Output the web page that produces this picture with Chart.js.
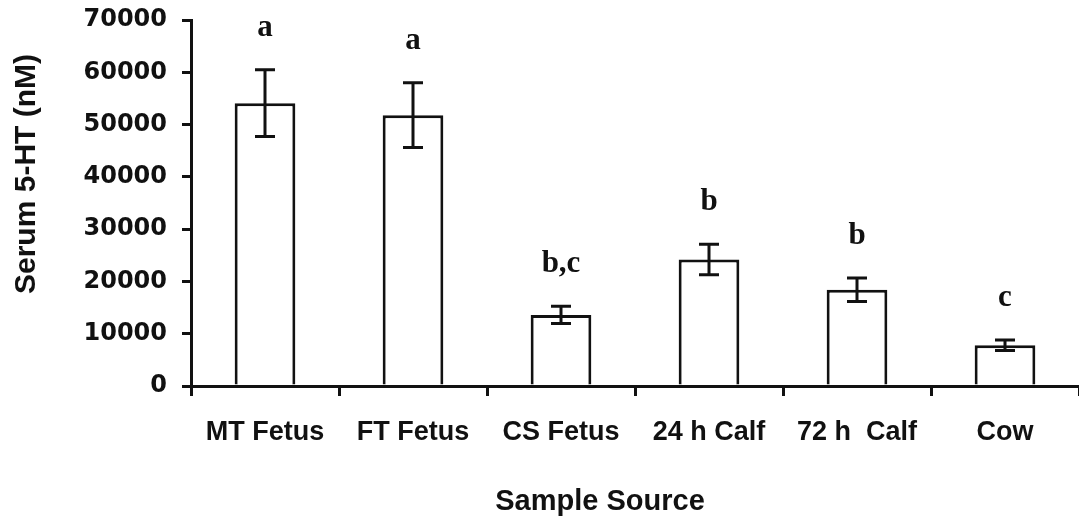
<!DOCTYPE html>
<html>
<head>
<meta charset="utf-8">
<script src="https://cdn.jsdelivr.net/npm/chart.js@4.4.1/dist/chart.umd.min.js"></script>
<style>
  body { margin: 0; background: #fff; }
  canvas { display: block; }
</style>
</head>
<body>
<canvas id="myChart" width="1079" height="523"></canvas>
<script>
// data
var sources = ['MT Fetus', 'FT Fetus', 'CS Fetus', '24 h Calf', '72 h  Calf', 'Cow'];
var serum5HT = [54100, 51800, 13600, 24200, 18400, 7800];
var sem = [6400, 6200, 1650, 2900, 2250, 1000];
var letters = ['a', 'a', 'b,c', 'b', 'b', 'c'];
var yTicks = [0, 10000, 20000, 30000, 40000, 50000, 60000, 70000];

var ink = '#111';

// error bars + significance letters
var errorBars = {
  id: 'errorBars',
  afterDatasetsDraw: function (chart) {
    var ctx = chart.ctx;
    var y = chart.scales.y;
    var meta = chart.getDatasetMeta(0);
    ctx.save();
    ctx.strokeStyle = ink;
    ctx.lineWidth = 3;
    meta.data.forEach(function (bar, i) {
      var x = bar.x;
      var hi = y.getPixelForValue(serum5HT[i] + sem[i]);
      var lo = y.getPixelForValue(serum5HT[i] - sem[i]);
      ctx.beginPath();
      ctx.moveTo(x, hi); ctx.lineTo(x, lo);
      ctx.moveTo(x - 10, hi); ctx.lineTo(x + 10, hi);
      ctx.moveTo(x - 10, lo); ctx.lineTo(x + 10, lo);
      ctx.stroke();
      ctx.fillStyle = ink;
      ctx.font = 'bold 31px "Liberation Serif", "Times New Roman", serif';
      ctx.textAlign = 'center';
      ctx.textBaseline = 'alphabetic';
      ctx.fillText(letters[i], x, hi - 34);
    });
    ctx.restore();
  }
};

// axis titles drawn by hand so they sit where the original has them
var axisTitles = {
  id: 'axisTitles',
  afterDraw: function (chart) {
    var ctx = chart.ctx;
    ctx.save();
    ctx.fillStyle = ink;
    ctx.font = 'bold 29px "Liberation Sans", Arial, sans-serif';
    ctx.textAlign = 'center';
    ctx.textBaseline = 'middle';
    ctx.fillText('Sample Source', 600, 502);
    ctx.translate(27, 174);
    ctx.rotate(-Math.PI / 2);
    ctx.font = 'bold 30px "Liberation Sans", Arial, sans-serif';
    ctx.fillText('Serum 5-HT (nM)', 0, 0);
    ctx.restore();
  }
};

var ctx = document.getElementById('myChart').getContext('2d');
var chart = new Chart(ctx, {
  type: 'bar',
  data: {
    labels: sources,
    datasets: [{
      label: 'Serum 5-HT',
      data: serum5HT,
      backgroundColor: '#fff',
      borderColor: ink,
      borderWidth: 3,
      barPercentage: 0.41,
      categoryPercentage: 1.0
    }]
  },
  options: {
    responsive: false,
    animation: false,
    layout: { padding: { top: 20, right: 0, left: 0, bottom: 0 } },
    plugins: {
      legend: { display: false },
      tooltip: { enabled: false }
    },
    scales: {
      x: {
        offset: true,
        border: { color: ink, width: 3 },
        grid: {
          offset: true,
          drawOnChartArea: false,
          drawTicks: true,
          tickLength: 10,
          color: ink,
          lineWidth: 3
        },
        ticks: {
          color: ink,
          padding: 20,
          maxRotation: 0,
          font: { family: '"Liberation Sans", Arial, sans-serif', size: 27, weight: 'bold' }
        },
        afterFit: function (scale) {
          scale.height = 137;
          scale.paddingLeft = 0; scale.paddingRight = 0;
        }
      },
      y: {
        min: 0,
        max: 70000,
        border: { color: ink, width: 3 },
        grid: {
          drawOnChartArea: false,
          drawTicks: true,
          tickLength: 9,
          color: ink,
          lineWidth: 3
        },
        afterBuildTicks: function (scale) {
          scale.ticks = yTicks.map(function (v) { return { value: v }; });
        },
        ticks: {
          color: ink,
          padding: 15,
          callback: function (v) { return String(v); },
          font: { family: '"DejaVu Sans", sans-serif', size: 24, weight: 'bold' }
        },
        afterFit: function (scale) {
          scale.width = 191;
          scale.paddingTop = 0; scale.paddingBottom = 0;
        }
      }
    }
  },
  plugins: [errorBars, axisTitles]
});
</script>
</body>
</html>
